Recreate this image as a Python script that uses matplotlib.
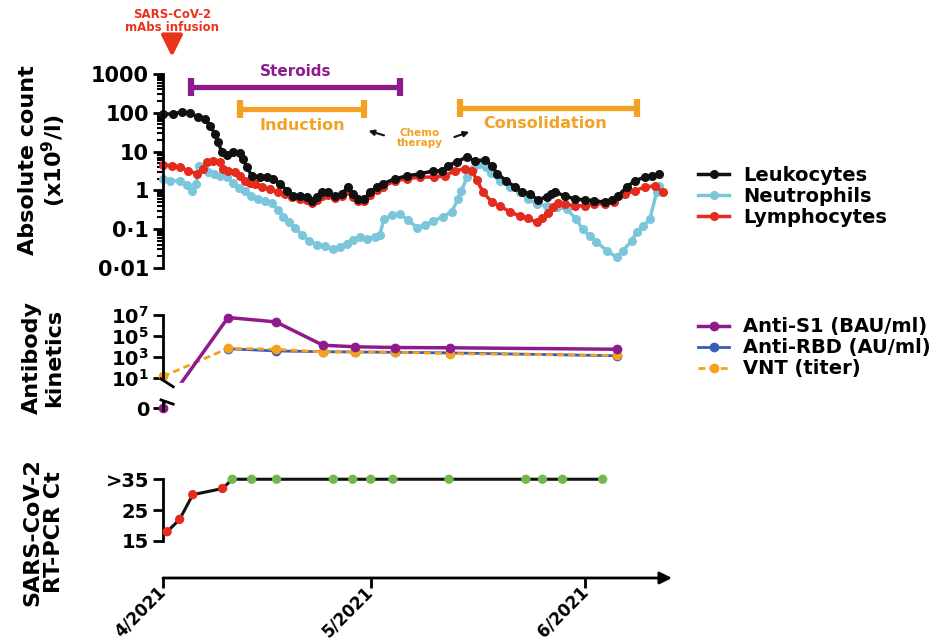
import numpy as np
import matplotlib
matplotlib.use("Agg")
import matplotlib.pyplot as plt
from matplotlib.ticker import FixedLocator, NullLocator, LogLocator

plt.rcParams["font.family"] = "DejaVu Sans"
plt.rcParams["font.weight"] = "bold"
plt.rcParams["axes.linewidth"] = 2.0

# day 0 = 1 April 2021
leuko_days = [0, 1.4, 2.7, 3.9, 5.0, 6.1, 6.8, 7.5, 7.9, 8.5, 9.2, 10.1, 11.1, 11.5, 12.1,
              12.8, 14.0, 15.0, 15.9, 16.9, 17.9, 18.8, 19.8, 20.8, 21.5, 22.2, 22.9, 23.8,
              24.8, 25.8, 26.7, 27.4, 28.1, 29.1, 29.9, 30.9, 31.7, 33.5, 35.2, 37.1, 39.0,
              40.3, 41.1, 42.4, 43.9, 45.0, 46.5, 47.5, 48.3, 49.6, 50.8, 51.8, 53.0, 54.1,
              55.4, 56.1, 56.6, 58.0, 59.5, 60.9, 62.3, 63.8, 64.8, 65.7, 67.0, 68.1, 69.6,
              70.6, 71.7]
leuko_vals = [93, 93, 105, 99, 78, 70, 46, 29, 18, 9.8, 8.2, 9.8, 9.3, 6.5, 4.0,
              2.4, 2.2, 2.2, 2.0, 1.5, 0.97, 0.72, 0.72, 0.68, 0.54, 0.68, 0.91, 0.91,
              0.72, 0.81, 1.23, 0.81, 0.6, 0.6, 0.91, 1.23, 1.47, 1.98, 2.36, 2.66, 3.18,
              3.18, 4.27, 5.4, 7.3, 5.75, 6.1, 4.27, 2.66, 1.76, 1.23, 0.91, 0.81, 0.57,
              0.68, 0.81, 0.91, 0.72, 0.6, 0.57, 0.54, 0.5, 0.57, 0.72, 1.23, 1.76, 2.2,
              2.36, 2.66]

neut_days = [0, 1.0, 2.5, 3.5, 4.2, 4.8, 5.2, 5.9, 6.5, 7.4, 8.2, 9.2, 10.1, 11.0, 11.8,
             12.7, 13.7, 14.7, 15.7, 16.6, 17.3, 18.2, 19.0, 20.1, 21.1, 22.2, 23.4, 24.5,
             25.5, 26.6, 27.4, 28.4, 29.4, 30.6, 31.3, 31.9, 33.0, 34.2, 35.4, 36.7, 37.8,
             39.0, 40.4, 41.7, 42.6, 43.1, 43.9, 44.7, 45.7, 46.6, 47.3, 48.6, 50.1, 51.5,
             52.7, 54.0, 55.4, 56.9, 58.3, 59.7, 60.6, 61.6, 62.6, 64.1, 65.5, 66.4, 67.7,
             68.4, 69.3, 70.3, 71.3, 71.7]
neut_vals = [2.0, 1.76, 1.76, 1.4, 0.97, 1.47, 4.3, 3.8, 3.0, 2.66, 2.36, 2.2, 1.56, 1.16, 0.96,
             0.72, 0.6, 0.54, 0.48, 0.31, 0.21, 0.15, 0.11, 0.071, 0.05, 0.04, 0.037, 0.031,
             0.035, 0.042, 0.053, 0.063, 0.056, 0.063, 0.071, 0.18, 0.23, 0.25, 0.17, 0.11, 0.13,
             0.16, 0.21, 0.28, 0.6, 0.97, 2.2, 3.6, 4.8, 4.0, 2.8, 1.76, 1.23, 0.91,
             0.6, 0.45, 0.4, 0.37, 0.33, 0.18, 0.10, 0.067, 0.047, 0.028, 0.019, 0.028, 0.05,
             0.085, 0.12, 0.18, 0.91, 1.3]

lymph_days = [0, 1.3, 2.5, 3.6, 4.9, 5.8, 6.3, 7.2, 8.2, 8.7, 9.4, 10.4, 11.1, 11.8, 12.6,
              13.3, 14.3, 15.4, 16.6, 17.6, 18.6, 19.8, 20.8, 21.5, 22.2, 22.9, 23.8, 24.8,
              25.8, 26.7, 27.4, 28.1, 29.1, 29.9, 30.9, 31.7, 33.5, 35.2, 37.1, 39.2, 40.7,
              42.1, 43.6, 44.6, 45.3, 46.2, 47.5, 48.6, 50.1, 51.5, 52.7, 54.0, 54.8, 55.6,
              56.3, 57.0, 58.0, 59.5, 60.9, 62.3, 63.8, 65.2, 66.7, 68.1, 69.6, 71.0, 72.2]
lymph_vals = [4.6, 4.3, 4.0, 3.2, 2.7, 3.6, 5.4, 5.8, 5.4, 3.6, 3.2, 3.0, 2.4, 1.76, 1.56,
              1.47, 1.23, 1.09, 0.91, 0.81, 0.68, 0.6, 0.57, 0.48, 0.57, 0.72, 0.76, 0.64,
              0.72, 0.97, 0.68, 0.54, 0.54, 0.76, 1.03, 1.23, 1.76, 1.98, 2.2, 2.2, 2.36,
              3.2, 3.6, 3.2, 1.87, 0.91, 0.5, 0.4, 0.28, 0.22, 0.19, 0.15, 0.19, 0.26,
              0.37, 0.48, 0.45, 0.4, 0.4, 0.45, 0.45, 0.5, 0.81, 0.97, 1.23, 1.3, 0.91]

# treatment periods (days)
steroid_period = [4.0, 34.2]
induction_period = [11.1, 29.1]
consolidation_period = [42.9, 68.4]
mabs_day = 1.3

# antibody kinetics (0 = below detection)
ab_days = [0, 9.4, 16.3, 23.1, 27.7, 33.5, 41.4, 65.5]
anti_s1 = [0, 6e6, 2.3e6, 1.4e4, 1.0e4, 8.5e3, 8e3, 5.8e3]
rbd_days = [9.4, 16.3, 23.1, 27.7, 33.5, 41.4, 65.5]
anti_rbd = [6.5e3, 4.0e3, 3.4e3, 3.2e3, 3.0e3, 2.6e3, 1.4e3]
vnt = [15, 7e3, 5.8e3, 3.2e3, 3.2e3, 3.2e3, 2.2e3, 1.5e3]

# SARS-CoV-2 RT-PCR Ct (35 = negative, >35)
ct_days = [0.6, 2.4, 4.3, 8.6, 10.0, 12.8, 16.4, 24.6, 27.4, 30.0, 33.2, 41.3, 52.4,
           54.8, 57.7, 63.5]
ct_vals = [18, 22, 30, 32, 35, 35, 35, 35, 35, 35, 35, 35, 35, 35, 35, 35]

month_ticks = [0, 30, 61]
month_labels = ["4/2021", "5/2021", "6/2021"]

BLACK = "#111111"
NEUT = "#7cc6dc"
LYMPH = "#e52a1e"
PURPLE = "#8e1b8e"
RBD = "#3b5bb8"
ORANGE = "#f4a11c"
GREEN = "#74b84b"
BAR_ORANGE = "#f2a125"

XMAX = 73.5
fig = plt.figure(figsize=(9.46, 6.44), dpi=100)
ax1 = fig.add_axes([0.1723, 0.5839, 0.538, 0.3012])
ax2 = fig.add_axes([0.1723, 0.3602, 0.538, 0.1553])
ax3 = fig.add_axes([0.1723, 0.1025, 0.538, 0.1677])

for ax in (ax1, ax2, ax3):
    ax.set_xlim(0, XMAX)
    for s in ("top", "right", "bottom"):
        ax.spines[s].set_visible(False)
    ax.tick_params(axis="y", direction="out", length=7, width=2, labelsize=14, pad=3)

# ---- top panel: absolute counts
ax1.set_yscale("log")
ax1.set_ylim(0.01, 1000)
ax1.plot(neut_days, neut_vals, "-o", color=NEUT, lw=2.5, ms=5.5, clip_on=False, label="Neutrophils")
ax1.plot(lymph_days, lymph_vals, "-o", color=LYMPH, lw=2.5, ms=5.5, clip_on=False, label="Lymphocytes")
ax1.plot(leuko_days, leuko_vals, "-o", color=BLACK, lw=2.5, ms=5.5, clip_on=False, label="Leukocytes")
ax1.set_xticks([])
ax1.yaxis.set_major_locator(FixedLocator([0.01, 0.1, 1, 10, 100, 1000]))
ax1.set_yticklabels(["0·01", "0·1", "1", "10", "100", "1000"], fontsize=15)
ax1.yaxis.set_minor_locator(LogLocator(base=10, subs=np.arange(2, 10)))
ax1.tick_params(axis="y", which="minor", length=4, width=1.5)

h, l = ax1.get_legend_handles_labels()
order = [2, 0, 1]
ax1.legend([h[i] for i in order], [l[i] for i in order], loc="upper left",
           bbox_to_anchor=(0.738, 0.742), bbox_transform=fig.transFigure, frameon=False,
           fontsize=14, handlelength=1.6, handletextpad=0.7, labelspacing=0.1,
           borderpad=0, borderaxespad=0)

# treatment bars
for period, yv, col in ((steroid_period, 450, PURPLE), (induction_period, 126, BAR_ORANGE),
                        (consolidation_period, 130, BAR_ORANGE)):
    ax1.plot(period, [yv, yv], color=col, lw=3.8, marker="|", ms=13, mew=4.5,
             clip_on=False, solid_capstyle="butt")
ax1.text(np.mean(steroid_period), 1150, "Steroids", color=PURPLE, fontsize=11,
         ha="center", va="center", clip_on=False)
ax1.text(np.mean(induction_period), 48, "Induction", color=BAR_ORANGE, fontsize=11.5,
         ha="center", va="center")
ax1.text(np.mean(consolidation_period) - 0.5, 53, "Consolidation", color=BAR_ORANGE,
         fontsize=11.5, ha="center", va="center")
ax1.text(37.1, 22, "Chemo\ntherapy", color=BAR_ORANGE, fontsize=7.5, ha="center",
         va="center", linespacing=1.0)
ax1.annotate("", xy=(29.3, 36), xytext=(32.3, 25),
             arrowprops=dict(arrowstyle="-|>", color=BLACK, lw=1.5, mutation_scale=8))
ax1.annotate("", xy=(44.6, 34), xytext=(41.7, 22.5),
             arrowprops=dict(arrowstyle="-|>", color=BLACK, lw=1.5, mutation_scale=8))
ax1.annotate("", xy=(mabs_day, 10 ** 3.44), xytext=(mabs_day, 10 ** 3.92),
             annotation_clip=False,
             arrowprops=dict(arrowstyle="-|>,head_width=0.4,head_length=0.8",
                             color="#e8341c", lw=3, mutation_scale=16, shrinkA=0, shrinkB=0))
ax1.text(mabs_day, 10 ** 4.37, "SARS-CoV-2\nmAbs infusion", color="#e8341c", fontsize=8.5,
         ha="center", va="center", linespacing=1.0, clip_on=False)

# ---- middle panel: antibody kinetics (broken log axis with 0)
ZERO_POS = -1.86


def ab_fwd(v):
    v = np.asarray(v, dtype=float)
    return np.where(v > 0, np.log10(np.where(v > 0, v, 1.0)), ZERO_POS)


def ab_inv(t):
    return 10.0 ** np.asarray(t, dtype=float)


ax2.set_yscale("function", functions=(ab_fwd, ab_inv))
ax2.set_ylim(10 ** -2.2, 10 ** 7.3)
ax2.plot(rbd_days, anti_rbd, "-o", color=RBD, lw=2, ms=6, clip_on=False, zorder=2,
         label="Anti-RBD (AU/ml)")
ax2.plot(ab_days, vnt, "--o", color=ORANGE, lw=2, ms=6, dashes=(2.5, 1.5), clip_on=False,
         zorder=2.2, label="VNT (titer)")
ax2.plot(ab_days, anti_s1, "-o", color=PURPLE, lw=2.5, ms=6, clip_on=False, zorder=2.4,
         label="Anti-S1 (BAU/ml)")
ax2.axhspan(10 ** -1.45, 10 ** 0.55, xmin=0.006, xmax=0.07, color="white", zorder=3)
ax2.set_xticks([])
ax2.yaxis.set_major_locator(FixedLocator([0, 10, 1e3, 1e5, 1e7]))
ax2.yaxis.set_minor_locator(NullLocator())
ax2.set_yticklabels(["0", r"$\mathbf{10^1}$", r"$\mathbf{10^3}$", r"$\mathbf{10^5}$",
                     r"$\mathbf{10^7}$"], fontsize=14)
ax2.spines["left"].set_bounds(10, 1e7)
ytr = ax2.get_yaxis_transform()
ax2.plot([0, 0], [10 ** -1.25, 10 ** -2.05], color="black", lw=2, transform=ytr,
         clip_on=False, zorder=4)
ax2.plot([-0.004, 0.02], [10 ** 0.95, 10 ** 0.2], color="black", lw=2, transform=ytr,
         clip_on=False, zorder=4)
ax2.plot([-0.004, 0.02], [10 ** -1.05, 10 ** -1.45], color="black", lw=2, transform=ytr,
         clip_on=False, zorder=4)

h, l = ax2.get_legend_handles_labels()
order = [2, 0, 1]
ax2.legend([h[i] for i in order], [l[i] for i in order], loc="upper left",
           bbox_to_anchor=(0.738, 0.507), bbox_transform=fig.transFigure, frameon=False,
           fontsize=14, handlelength=1.6, handletextpad=0.7, labelspacing=0.1,
           borderpad=0, borderaxespad=0)

# ---- bottom panel: RT-PCR Ct
ax3.set_ylim(3, 38)
ax3.plot(ct_days, ct_vals, "-", color=BLACK, lw=2.2, clip_on=False, zorder=2)
ct_cols = [GREEN if v >= 35 else LYMPH for v in ct_vals]
ax3.scatter(ct_days, ct_vals, s=45, c=ct_cols, zorder=3, clip_on=False, linewidths=0)
ax3.set_yticks([15, 25, 35])
ax3.set_yticklabels(["15", "25", ">35"], fontsize=14)
ax3.spines["left"].set_bounds(15, 35)
ax3.set_xticks(month_ticks)
ax3.set_xticklabels(month_labels, rotation=45, ha="right", va="center",
                    rotation_mode="anchor", fontsize=12)
ax3.tick_params(axis="x", direction="out", length=7, width=2, pad=1)
ax3.annotate("", xy=(1.0, 0), xytext=(0, 0), xycoords="axes fraction",
             arrowprops=dict(arrowstyle="-|>", color="black", lw=2, mutation_scale=18,
                             shrinkA=0, shrinkB=0))

# ---- y labels
fig.text(43 / 946, 1 - 160 / 644, "Absolute count\n(x10$^{\\mathbf{9}}$/l)", rotation=90,
         ha="center", va="center", fontsize=16, linespacing=1.1)
fig.text(43 / 946, 1 - 358 / 644, "Antibody\nkinetics", rotation=90, ha="center",
         va="center", fontsize=16, linespacing=1.1)
fig.text(43 / 946, 1 - 532 / 644, "SARS-CoV-2\nRT-PCR Ct", rotation=90, ha="center",
         va="center", fontsize=16, linespacing=1.1)

fig.savefig("out.png", dpi=100)
